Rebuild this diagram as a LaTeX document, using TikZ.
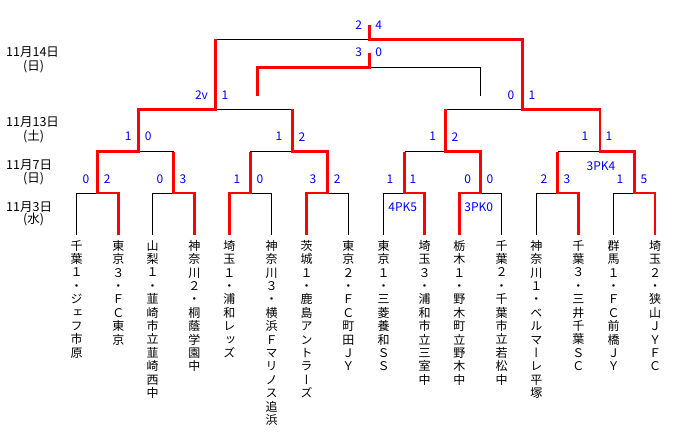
\documentclass[tikz,border=0pt]{standalone}
\usepackage{fontspec}
\newfontfamily\jp{Noto Sans CJK JP}
\newfontfamily\jpv[RawFeature=+vert]{Noto Sans CJK JP}
\definecolor{rd}{RGB}{255,0,0}
\definecolor{bl}{RGB}{0,0,255}
\makeatletter
\def\vst#1{\vbox{\baselineskip=13.4pt\lineskiplimit=-20pt\lineskip=0pt\vst@#1\relax}}
\def\vst@#1{\ifx#1\relax\else\hbox to 13pt{\hss#1\hss}\expandafter\vst@\fi}
\makeatother
\begin{document}
\begin{tikzpicture}[x=1pt,y=-1pt,
  br/.style={draw=black,line width=1pt},
  win/.style={draw=rd,line width=2.7pt,line join=miter},
  sc/.style={text=bl,font=\jp\fontsize{12}{12}\selectfont,inner sep=0pt},
  dt/.style={font=\jp\fontsize{12.5}{12.5}\selectfont,inner sep=0pt},
  team/.style={font=\jpv\fontsize{12}{12}\selectfont,inner sep=0pt,anchor=north}]
\useasboundingbox (0,0) rectangle (676,442);
% levels
\def\yL{235}\def\yA{193}\def\yB{151.5}\def\yC{109.3}\def\yF{39.2}
% leaf coordinates
\foreach \n/\x in {1/76.7,2/118.3,3/152.7,4/194.3,5/229.3,6/271.7,7/306.7,8/348.3,
                   9/383.7,10/424.7,11/459.3,12/501.7,13/536.3,14/578.3,15/613.5,16/655}{
  \coordinate (b\n) at (\x,\yL);
  \coordinate (a\n) at (\x,\yA);
}
% round 1 mids
\foreach \n/\x in {1/97.8,2/173.5,3/250.3,4/327.3,5/404.5,6/480.5,7/557.7,8/634.5}{
  \coordinate (m\n) at (\x,\yA);
  \coordinate (M\n) at (\x,\yB);
}
% round 2 mids
\foreach \n/\x in {1/138.7,2/292.7,3/445.3,4/600}{
  \coordinate (n\n) at (\x,\yB);
  \coordinate (N\n) at (\x,\yC);
}
% semis
\coordinate (s1) at (215.5,\yC); \coordinate (S1) at (215.5,\yF);
\coordinate (s2) at (522.7,\yC); \coordinate (S2) at (522.7,\yF);
\coordinate (f) at (369.5,\yF); \coordinate (F) at (369.5,25);
% third place
\coordinate (p1) at (257.3,95.7); \coordinate (P1) at (257.3,67.5);
\coordinate (p2) at (480.3,95.7); \coordinate (P2) at (480.3,67.5);
\coordinate (q) at (369.5,67.5); \coordinate (Q) at (369.5,53.3);

% black bracket
\foreach \i/\j/\k in {1/2/1,3/4/2,5/6/3,7/8/4,9/10/5,11/12/6,13/14/7,15/16/8}{
  \draw[br] (b\i) -- (a\i) -- (a\j) -- (b\j);
  \draw[br] (m\k) -- (M\k);
}
\draw[br] (M1) -- (M2); \draw[br] (M3) -- (M4); \draw[br] (M5) -- (M6); \draw[br] (M7) -- (M8);
\foreach \k in {1,2,3,4}{\draw[br] (n\k) -- (N\k);}
\draw[br] (N1) -- (N2); \draw[br] (N3) -- (N4);
\draw[br] (s1) -- (S1); \draw[br] (s2) -- (S2); \draw[br] (S1) -- (S2);
\draw[br] (p1) -- (P1) -- (P2) -- (p2);

% red winner paths
\draw[win] (b2) -- (a2) -- (m1) -- (M1) -- (n1) -- (N1) -- (s1) -- (S1);
\draw[win] (b4) -- (a4) -- (m2) -- (M2);
\draw[win] (b5) -- (a5) -- (m3) -- (M3);
\draw[win] (b7) -- (a7) -- (m4) -- (M4) -- (n2) -- (N2);
\draw[win] (b10) -- (a10) -- (m5) -- (M5);
\draw[win] (b11) -- (a11) -- (m6) -- (M6) -- (n3) -- (N3);
\draw[win] (b14) -- (a14) -- (m7) -- (M7);
\draw[win] (b16) -- (a16) -- (m8) -- (M8) -- (n4) -- (N4) -- (s2) -- (S2) -- (f) -- (F);
\draw[win] (p1) -- (P1) -- (q) -- (Q);

% dates
\node[dt,anchor=west] (d1) at (6,52.5) {11月14日};
\node[dt] (d1p) at (33.5,66.3) {(日)};
\node[dt,anchor=west] (d2) at (6,122.5) {11月13日};
\node[dt] (d2p) at (33.5,136.3) {(土)};
\node[dt,anchor=west] (d3) at (6,165) {11月7日};
\node[dt] (d3p) at (33.5,178.8) {(日)};
\node[dt,anchor=west] (d4) at (6,207.5) {11月3日};
\node[dt] (d4p) at (33.5,219.7) {(水)};

% scores round 1
\foreach \x/\t [count=\c] in {86/0,107.3/2,160/0,183/3,237/1,260/0,313/3,337.3/2,
    390/1,413/1,467.7/0,490/0,544/2,567/3,620/1,644/5}{
  \node[sc] (r1s\c) at (\x,179.5) {\t};
}
% scores round 2
\foreach \x/\t [count=\c] in {128.3/1,148.3/0,279/1,302/2,432.7/1,455/2,585/1,609/1}{
  \node[sc] (r2s\c) at (\x,136.7) {\t};
}
% semis
\node[sc] (sf1) at (201.5,95.3) {2v};
\node[sc] (sf2) at (225,95.3) {1};
\node[sc] (sf3) at (511,95.3) {0};
\node[sc] (sf4) at (532,95.3) {1};
% final and third place
\node[sc] (fi1) at (358.7,25) {2};
\node[sc] (fi2) at (378.7,25) {4};
\node[sc] (th1) at (358.7,52.7) {3};
\node[sc] (th2) at (378.7,52.7) {0};
% penalty kicks
\node[sc] (pk1) at (402.7,207.3) {4PK5};
\node[sc] (pk2) at (478.7,207.3) {3PK0};
\node[sc] (pk3) at (601,165.7) {3PK4};

% teams
\node[team] (t1) at (76.7,240) {\vst{千葉１・ジェフ市原}};
\node[team] (t2) at (118.3,240) {\vst{東京３・ＦＣ東京}};
\node[team] (t3) at (152.7,240) {\vst{山梨１・韮崎市立韮崎西中}};
\node[team] (t4) at (194.3,240) {\vst{神奈川２・桐蔭学園中}};
\node[team] (t5) at (229.3,240) {\vst{埼玉１・浦和レッズ}};
\node[team] (t6) at (271.7,240) {\vst{神奈川３・横浜Ｆマリノス追浜}};
\node[team] (t7) at (306.7,240) {\vst{茨城１・鹿島アントラーズ}};
\node[team] (t8) at (348.3,240) {\vst{東京２・ＦＣ町田ＪＹ}};
\node[team] (t9) at (383.7,240) {\vst{東京１・三菱養和ＳＳ}};
\node[team] (t10) at (424.7,240) {\vst{埼玉３・浦和市立三室中}};
\node[team] (t11) at (459.3,240) {\vst{栃木１・野木町立野木中}};
\node[team] (t12) at (501.7,240) {\vst{千葉２・千葉市立若松中}};
\node[team] (t13) at (536.3,240) {\vst{神奈川１・ベルマーレ平塚}};
\node[team] (t14) at (578.3,240) {\vst{千葉３・三井千葉ＳＣ}};
\node[team] (t15) at (613.5,240) {\vst{群馬１・ＦＣ前橋ＪＹ}};
\node[team] (t16) at (655,240) {\vst{埼玉２・狭山ＪＹＦＣ}};
\end{tikzpicture}
\end{document}
